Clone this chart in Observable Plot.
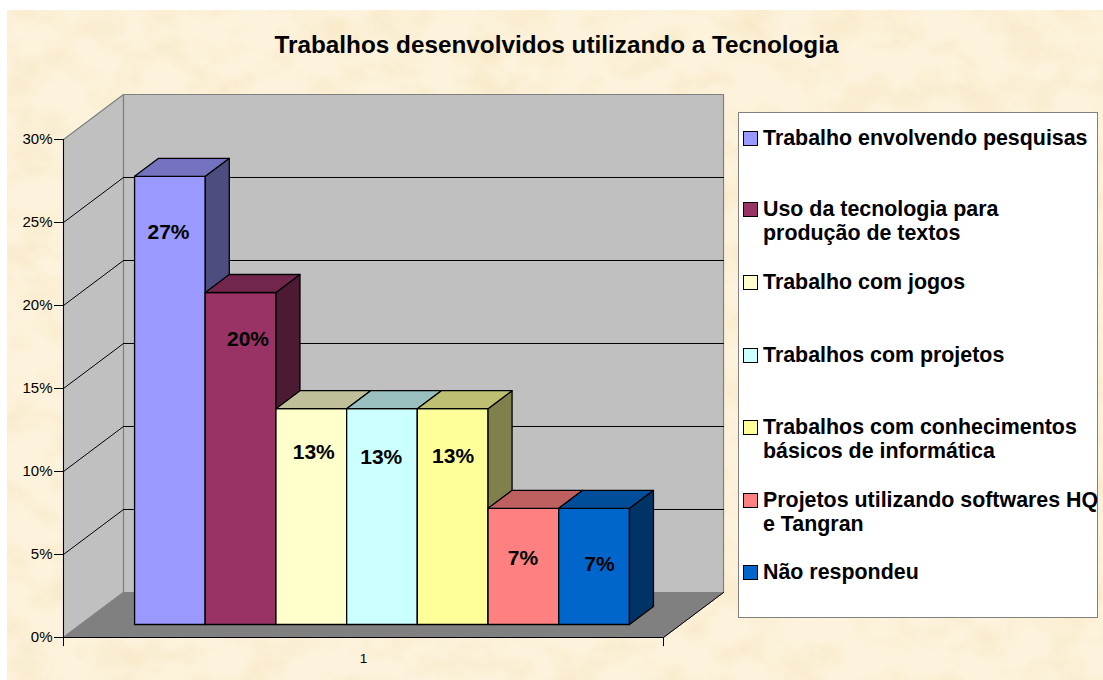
<!DOCTYPE html>
<html lang="pt">
<head>
<meta charset="utf-8">
<script src="https://cdn.jsdelivr.net/npm/d3@7"></script>
<script src="https://cdn.jsdelivr.net/npm/@observablehq/plot@0.6"></script>
<style>
html,body{margin:0;padding:0;background:#fff;width:1103px;height:680px;overflow:hidden}
#paper{position:absolute;left:7px;top:10px;width:1096px;height:670px;background:#fdf3dd;overflow:hidden}
#paper svg.tex{position:absolute;left:0;top:0;width:100%;height:100%}
#chart{position:absolute;left:0;top:0;width:1103px;height:680px}
#chart svg{background:transparent;display:block}
#title{position:absolute;left:0;top:30px;width:1113px;text-align:center;font:bold 24.3px/30px "Liberation Sans",Arial,sans-serif;color:#000}
#legend{position:absolute;left:738px;top:112px;width:360px;height:506px;box-sizing:border-box;background:#fff;border:1px solid #808080}
.entry{position:absolute;left:5px;font:bold 21.4px/24px "Liberation Sans",Arial,sans-serif;color:#000;white-space:nowrap}
.entry i{position:absolute;left:-1px;top:5px;width:13px;height:13px;border:1px solid #000;display:block}
.entry span{display:block;margin-left:19px}
</style>
</head>
<body>
<div id="paper">
<svg class="tex" xmlns="http://www.w3.org/2000/svg"><filter id="parch" x="0" y="0" width="100%" height="100%"><feTurbulence type="fractalNoise" baseFrequency="0.022 0.03" numOctaves="4" seed="7"/><feColorMatrix values="0 0 0 0 0.93  0 0 0 0 0.80  0 0 0 0 0.55  1.6 0 0 0 -0.62"/></filter><rect width="100%" height="100%" filter="url(#parch)"/></svg>
</div>
<div id="chart"></div>
<div id="title"></div>
<div id="legend"></div>
<script>
const titleText = "Trabalhos desenvolvidos utilizando a Tecnologia";
const categories = ["Trabalho envolvendo pesquisas","Uso da tecnologia para|produção de textos","Trabalho com jogos","Trabalhos com projetos","Trabalhos com conhecimentos|básicos de informática","Projetos utilizando softwares HQ|e Tangran","Não respondeu"];
const values = [27,20,13,13,13,7,7];
const colors = ["#9999FF","#993366","#FFFFCC","#CCFFFF","#FFFF99","#FF8080","#0066CC"];
const yTicks = [0,5,10,15,20,25,30];
const xLabel = "1";
// layout of the label and legend placement
const labelX = [0.725,1.85,2.78,3.735,4.75,5.74,6.82];
const labelY = [24.4,17.95,11.15,10.85,10.9,4.75,4.4];
const legendTops = [125,196,269,342,414,487,559];

// 3D projection, expressed in data units (bar widths, percent)
const xDomain = [-0.76, 7.727];
const wallDx = 0.849, wallDy = 2.711;   // full depth of the floor
const barD0 = 0.289, barD1 = 0.689;     // bar depth range
const P = (x, v, d) => ({x: x + wallDx * d, y: v + wallDy * d});
const face = (pts, fill, stroke, w = 1) => Plot.line(pts, {x: "x", y: "y", fill, stroke, strokeWidth: w, curve: "linear-closed"});
const seg = (a, b, stroke, w = 1) => Plot.line([a, b], {x: "x", y: "y", stroke, strokeWidth: w});
const shade = (c, k) => { const q = d3.rgb(c); return d3.rgb(q.r * k, q.g * k, q.b * k).formatHex(); };

const [xa, xb] = xDomain;
const yTop = d3.max(yTicks);
const marks = [
  // walls and floor
  face([P(xa,0,0),P(xa,yTop,0),P(xa,yTop,1),P(xa,0,1)], "#c0c0c0", "#808080", 1.2),
  face([P(xa,0,1),P(xa,yTop,1),P(xb,yTop,1),P(xb,0,1)], "#c0c0c0", "#808080", 1.2),
  face([P(xa,0,0),P(xb,0,0),P(xb,0,1),P(xa,0,1)], "#808080", "#808080"),
  // gridlines
  ...yTicks.slice(1,-1).flatMap(t => [
    seg(P(xa,t,0), P(xa,t,1), "#000"),
    seg(P(xa,t,1), P(xb,t,1), "#000")
  ]),
  // axes
  seg(P(xb,0,0), P(xb,0,1), "#000"),
  seg(P(xa,0,0), P(xb,0,0), "#000"),
  Plot.ruleX([xa], {y1: -0.55, y2: yTop, stroke: "#000"}),
  Plot.ruleX([xb], {y1: -0.55, y2: 0, stroke: "#000"}),
  Plot.axisY({ticks: yTicks, tickFormat: d => d + "%", tickSize: 9, tickPadding: 2, fontSize: 15, fontFamily: "Liberation Sans", stroke: "#000", fill: "#000", label: null}),
  Plot.axisX({ticks: [(xa + xb) / 2], tickFormat: () => xLabel, tickSize: 0, tickPadding: 16, fontSize: 13.5, fontFamily: "Liberation Sans", fill: "#000", label: null}),
  // bars
  ...values.flatMap((v, i) => {
    const c = colors[i], a = i, b = i + 1;
    return [
      face([P(a,0,barD0),P(b,0,barD0),P(b,v,barD0),P(a,v,barD0)], c, "#000", 1.3),
      face([P(b,0,barD0),P(b,0,barD1),P(b,v,barD1),P(b,v,barD0)], shade(c,.5), "#000", 1.3),
      face([P(a,v,barD0),P(b,v,barD0),P(b,v,barD1),P(a,v,barD1)], shade(c,.75), "#000", 1.3)
    ];
  }),
  // value labels
  Plot.text(values, {x: (d,i) => labelX[i], y: (d,i) => labelY[i], text: d => d + "%", fontSize: 21, fontWeight: "bold", fontFamily: "Liberation Sans", fill: "#000"})
];

const chart = Plot.plot({
  width: 1103, height: 680,
  marginTop: 139, marginBottom: 43, marginLeft: 63, marginRight: 440,
  x: {domain: xDomain, axis: null},
  y: {domain: [0, yTop], axis: null},
  style: {background: "transparent", overflow: "visible"},
  marks
});
document.getElementById("chart").appendChild(chart);
document.getElementById("title").textContent = titleText;

const legend = d3.select("#legend");
categories.forEach((c, i) => {
  const e = legend.append("div").attr("class", "entry").style("top", (legendTops[i] - 112) + "px");
  e.append("i").style("background", colors[i]);
  const s = e.append("span");
  c.split("|").forEach(l => s.append("div").text(l));
});
</script>
</body>
</html>
